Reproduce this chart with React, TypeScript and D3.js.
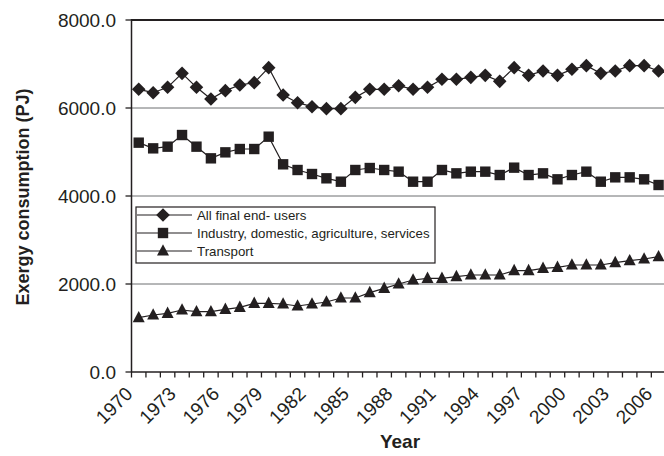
import React from "react";
import * as d3 from "d3";

const years = d3.range(1970, 2007);
const allFinal = [6425, 6348, 6470, 6788, 6470, 6205, 6394, 6523, 6576, 6917, 6295, 6121, 6030, 5985, 5985, 6242, 6425, 6425, 6507, 6425, 6470, 6652, 6652, 6697, 6742, 6606, 6917, 6742, 6841, 6742, 6879, 6962, 6788, 6841, 6962, 6962, 6841];
const industry = [5212, 5083, 5121, 5386, 5121, 4856, 4992, 5068, 5068, 5348, 4720, 4591, 4500, 4402, 4325, 4591, 4636, 4591, 4553, 4325, 4325, 4591, 4515, 4553, 4553, 4477, 4644, 4477, 4515, 4379, 4477, 4553, 4325, 4424, 4424, 4379, 4250];
const transport = [1234, 1295, 1333, 1409, 1371, 1371, 1424, 1470, 1561, 1561, 1545, 1500, 1545, 1591, 1682, 1682, 1803, 1902, 2000, 2091, 2129, 2129, 2167, 2205, 2205, 2205, 2303, 2303, 2356, 2379, 2432, 2432, 2432, 2485, 2530, 2568, 2621];
const yTicks = [0, 2000, 4000, 6000, 8000];
const labelYears = d3.range(1970, 2007, 3);
const seriesNames = ["All final end- users", "Industry, domestic, agriculture, services", "Transport"];
const seriesShapes = ["diamond", "square", "triangle"];

const INK = "#231f20";
const FONT = "Arial, 'Liberation Sans', Helvetica, sans-serif";

const M = { left: 131.5, top: 20, bottom: 372 };
const BAND = 14.44;

function markerPath(shape: string): string {
  if (shape === "diamond") return "M0,-6.8L6.8,0L0,6.8L-6.8,0Z";
  if (shape === "square") return "M-5.2,-5.2H5.2V5.2H-5.2Z";
  return "M0,-6.8L6,4.6L-6,4.6Z";
}

export default function App() {
  const x = d3.scaleBand<number>().domain(years).range([M.left, M.left + BAND * years.length]).paddingInner(0).paddingOuter(0);
  const y = d3.scaleLinear().domain([0, 8000]).range([M.bottom, M.top]);
  const cx = (yr: number) => (x(yr) as number) + x.bandwidth() / 2;
  const right = M.left + BAND * years.length;
  const series = [allFinal, industry, transport];
  const line = d3.line<number>().x((_, i) => cx(years[i])).y((v) => y(v));
  const tickBounds = d3.range(0, years.length + 1).map((i) => M.left + i * x.step());

  const legendX = 136, legendY = 207, legendW = 299, legendH = 56;
  const legendRows = [215, 233, 251];

  return (
    <svg width={664} height={456} style={{ position: "absolute", left: 0, top: 0, background: "#fff" }} fontFamily={FONT}>
      <rect x={0} y={0} width={664} height={456} fill="#fff" />
      {/* gridlines */}
      {yTicks.filter((t) => t > 0 && t < 8000).map((t) => (
        <line key={t} x1={M.left} x2={right} y1={y(t)} y2={y(t)} stroke="#6d6e71" strokeWidth={1} />
      ))}
      <line x1={M.left} x2={right} y1={y(8000)} y2={y(8000)} stroke={INK} strokeWidth={2} />
      {/* axes */}
      <line x1={M.left} x2={M.left} y1={y(8000) - 1} y2={y(0)} stroke={INK} strokeWidth={1.5} />
      <line x1={M.left} x2={right} y1={y(0)} y2={y(0)} stroke={INK} strokeWidth={1.5} />
      {yTicks.map((t) => (
        <g key={t}>
          <line x1={M.left - 6} x2={M.left} y1={y(t)} y2={y(t)} stroke={INK} strokeWidth={1.3} />
          <text x={116} y={y(t)} dy="0.36em" textAnchor="end" fontSize={19} fill={INK}>{t.toFixed(1)}</text>
        </g>
      ))}
      {tickBounds.map((bx, i) => (
        <line key={i} x1={bx} x2={bx} y1={y(0)} y2={y(0) + 5.5} stroke={INK} strokeWidth={1.3} />
      ))}
      {labelYears.map((yr) => (
        <text key={yr} transform={`translate(${cx(yr) - 5},${395}) rotate(-45)`} textAnchor="end" fontSize={19} fill={INK}>{yr}</text>
      ))}
      <text transform={`translate(29,197) rotate(-90)`} textAnchor="middle" fontSize={18} fontWeight="bold" fill={INK}>Exergy consumption (PJ)</text>
      <text x={400} y={448} textAnchor="middle" fontSize={19} fontWeight="bold" fill={INK}>Year</text>
      {/* series */}
      {series.map((vals, si) => (
        <g key={si}>
          <path d={line(vals) || ""} fill="none" stroke={INK} strokeWidth={1.2} />
          {vals.map((v, i) => (
            <path key={i} d={markerPath(seriesShapes[si])} transform={`translate(${cx(years[i])},${y(v)})`} fill={INK} />
          ))}
        </g>
      ))}
      {/* legend */}
      <rect x={legendX} y={legendY} width={legendW} height={legendH} fill="#fff" stroke={INK} strokeWidth={1.2} />
      {seriesNames.map((name, i) => (
        <g key={name}>
          <line x1={137} x2={192} y1={legendRows[i]} y2={legendRows[i]} stroke={INK} strokeWidth={1.2} />
          <path d={markerPath(seriesShapes[i])} transform={`translate(163,${legendRows[i]})`} fill={INK} />
          <text x={197} y={legendRows[i]} dy="0.36em" fontSize={13.3} fill={INK}>{name}</text>
        </g>
      ))}
    </svg>
  );
}
